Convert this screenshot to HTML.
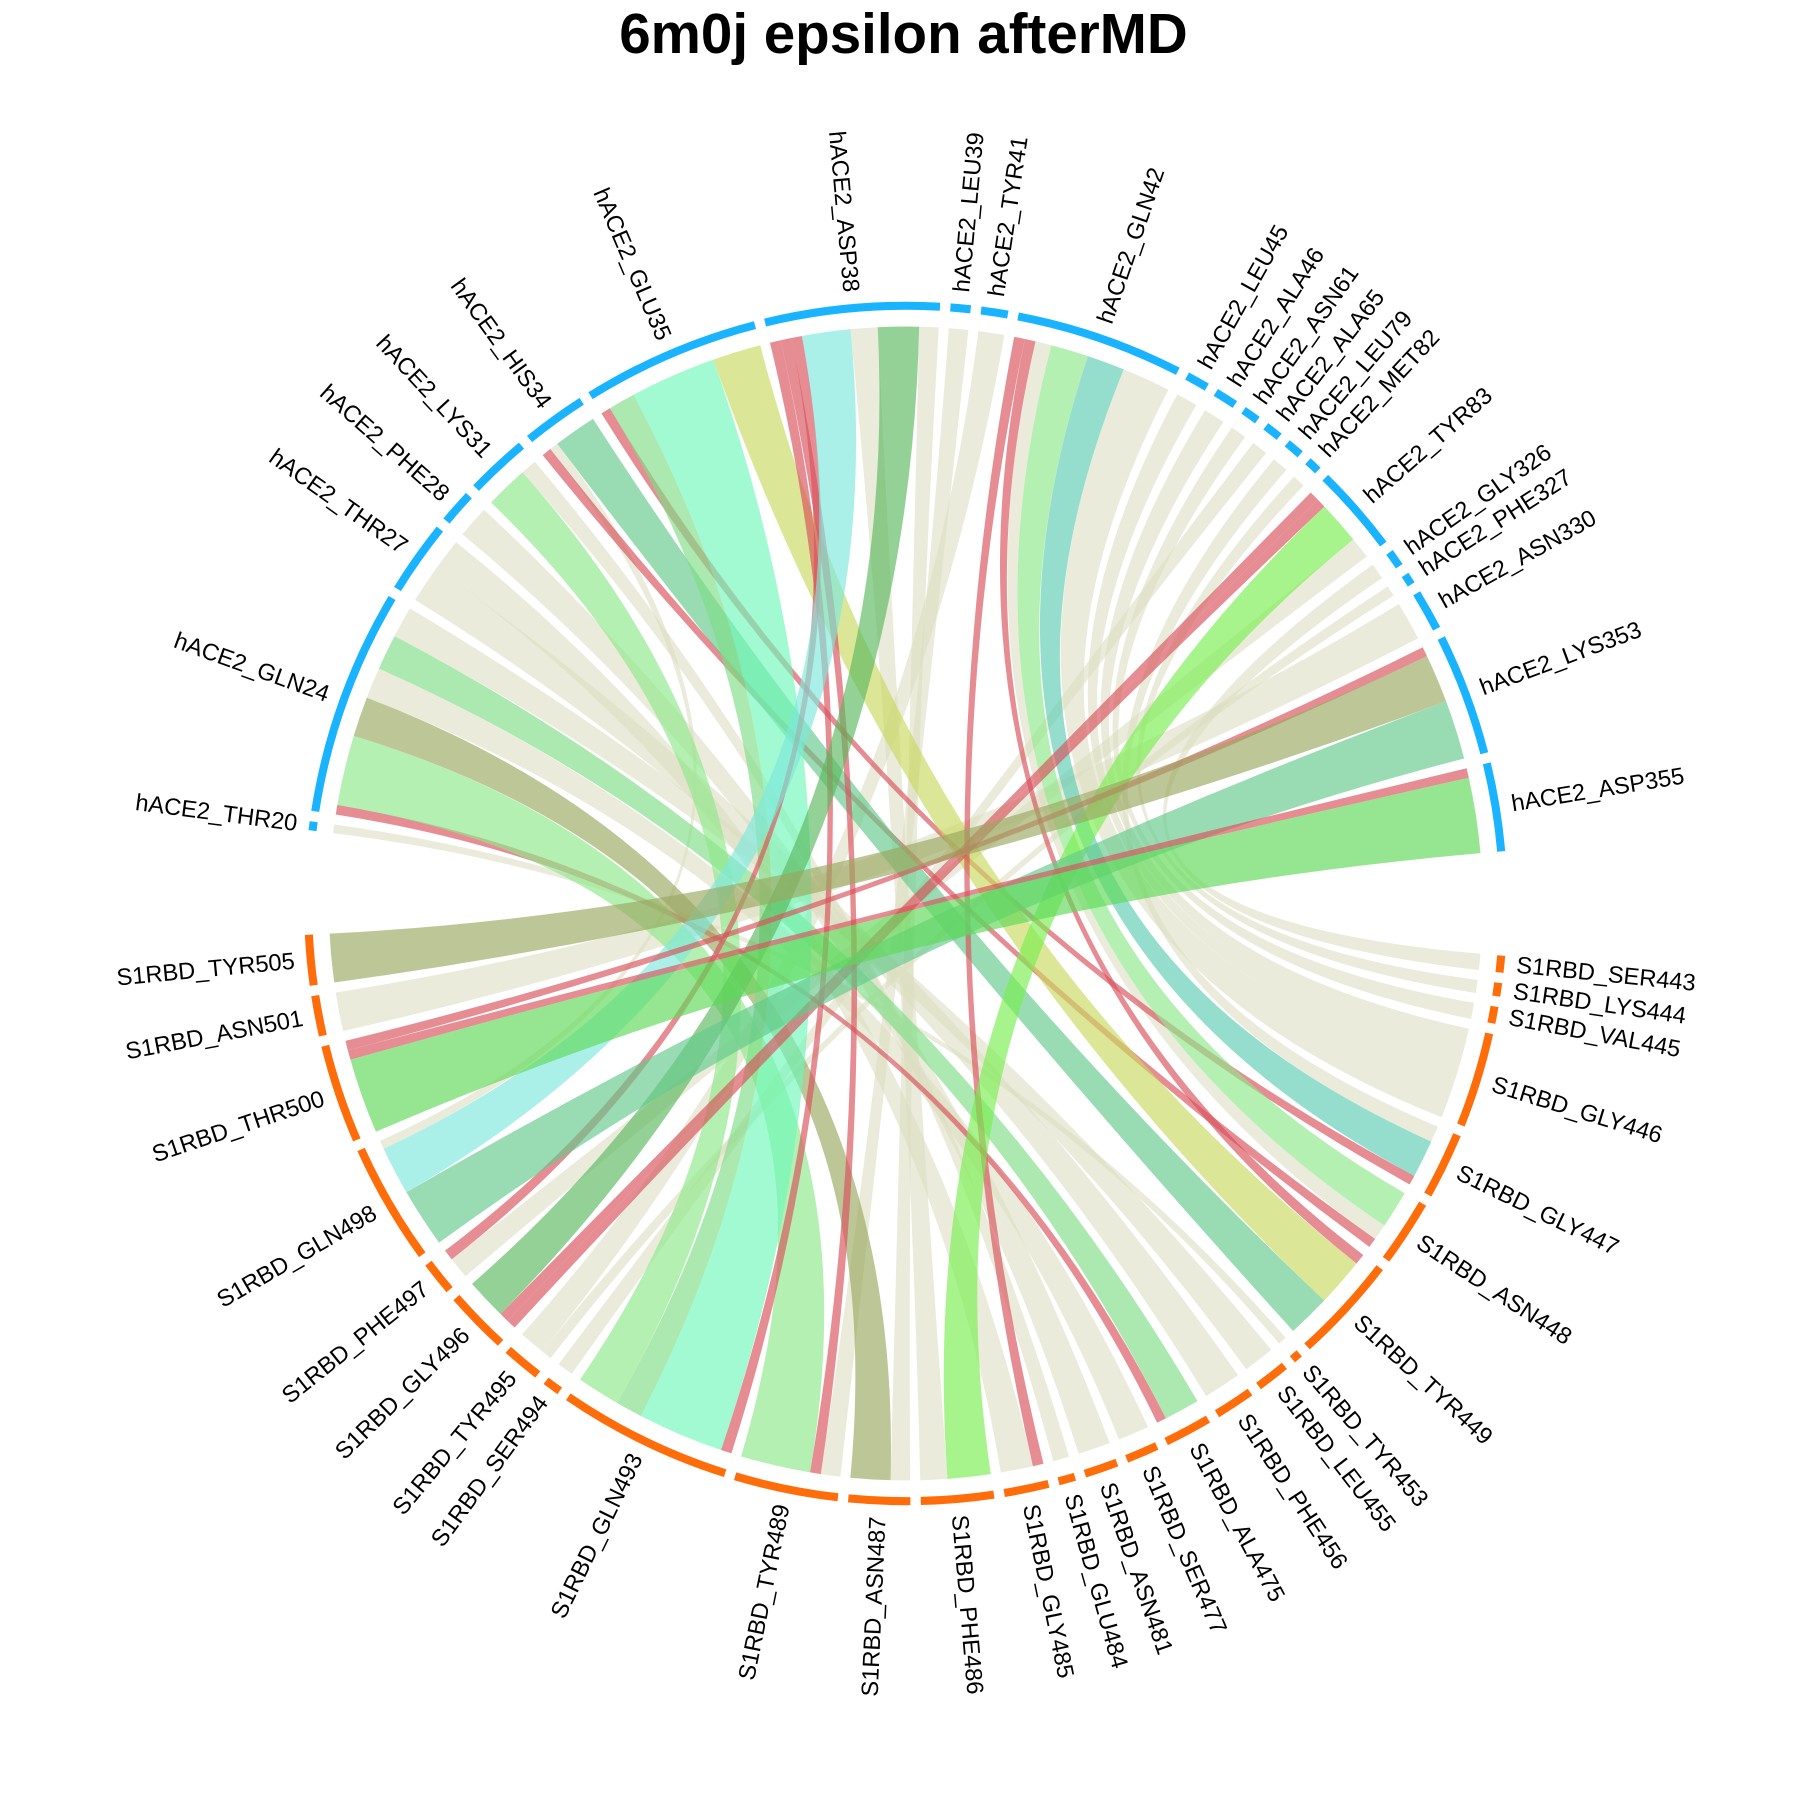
<!DOCTYPE html>
<html><head><meta charset="utf-8">
<style>
html,body{margin:0;padding:0;background:#fff;}
svg{display:block;}
</style></head>
<body>
<svg id="chart" width="1800" height="1800" viewBox="0 0 1560 1560" xmlns="http://www.w3.org/2000/svg">
<text x="783" y="46" text-anchor="middle" font-family="Liberation Sans, sans-serif" font-weight="bold" font-size="49" fill="#000">6m0j epsilon afterMD</text>
<g id="ribbons"></g>
<g id="tracks"></g>
<g id="labels"></g>
</svg>
<script>
const hSectors = ["THR20","GLN24","THR27","PHE28","LYS31","HIS34","GLU35","ASP38","LEU39","TYR41","GLN42","LEU45","ALA46","ASN61","ALA65","LEU79","MET82","TYR83","GLY326","PHE327","ASN330","LYS353","ASP355"];
const sSectors = ["SER443","LYS444","VAL445","GLY446","GLY447","ASN448","TYR449","TYR453","LEU455","PHE456","ALA475","SER477","ASN481","GLU484","GLY485","PHE486","ASN487","TYR489","GLN493","SER494","TYR495","GLY496","PHE497","GLN498","THR500","ASN501","TYR505"];
const linkFrom = ["THR20","GLN24","GLN24","GLN24","GLN24","GLN24","GLN24","THR27","THR27","PHE28","LYS31","LYS31","HIS34","HIS34","HIS34","GLU35","GLU35","GLU35","GLU35","ASP38","ASP38","ASP38","ASP38","ASP38","ASP38","ASP38","LEU39","TYR41","GLN42","GLN42","GLN42","GLN42","GLN42","GLN42","LEU45","ALA46","ASN61","ALA65","LEU79","MET82","TYR83","TYR83","TYR83","TYR83","GLY326","PHE327","ASN330","LYS353","LYS353","LYS353","ASP355","ASP355"];
const linkTo = ["TYR453","ALA475","TYR489","ASN487","SER477","ALA475","LEU455","PHE456","GLY485","ASN481","GLN493","GLU484","ASN448","GLN498","TYR449","GLY447","GLN493","GLN493","TYR449","GLN493","TYR489","PHE497","GLN498","PHE486","GLY496","ASN487","TYR489","TYR495","GLY485","TYR449","ASN448","ASN448","GLY447","GLY446","GLY446","GLY446","VAL445","SER494","GLY447","LYS444","GLY496","GLY496","PHE486","PHE497","SER443","TYR495","ASN501","THR500","TYR505","GLN498","THR500","THR500"];
const linkValue = [0.8,0.9,6.5,3.7,2.9,3.3,2.9,3.5,3.0,3.0,4.0,1.5,0.9,0.8,4.0,0.9,2.5,8.0,4.5,1.0,1.0,1.0,4.5,2.5,3.8,1.8,1.8,2.4,1.0,1.0,1.5,3.5,3.5,4.5,2.0,2.0,1.5,1.5,1.5,1.2,0.9,0.9,4.0,2.0,1.5,1.0,3.6,0.9,4.5,5.5,0.9,7.0];
const linkColor = ["beige","red","lgreen","olive","beige","mgreen","beige","beige","beige","beige","lgreen","beige","red","beige","tgreen","red","mgreen","mint","yellow","red","red","red","cyan","beige","green","beige","beige","beige","red","red","beige","lgreen","teal","beige","beige","beige","beige","beige","beige","beige","red","red","bgreen","beige","beige","beige","beige","red","olive","tgreen","red","green2"];

const palette = {beige:["#dcdec2",0.6],red:["#d9505a",0.65],lgreen:["#8ee88a",0.65],olive:["#9aa860",0.65],mgreen:["#7edd86",0.65],tgreen:["#62c98a",0.65],mint:["#6ff8b8",0.65],yellow:["#c9d860",0.65],cyan:["#7de8dc",0.65],green:["#5ab95e",0.65],teal:["#5ccdb4",0.65],bgreen:["#78ee50",0.65],green2:["#5ed856",0.65]};

const CX=785, CY=783, RT=518, RC=500, RL=532;
const H_START=277, H_END=445, S_START=95, S_END=267, GAP=1.0;
const svg=document.getElementById('chart');
const NS="http://www.w3.org/2000/svg";
const rad=d=>d*Math.PI/180;
function pt(a,r){return [CX+r*Math.sin(rad(a)), CY-r*Math.cos(rad(a))];}

function layout(sectors, start, end, key){
  const sums={}; sectors.forEach(s=>sums[s]=0);
  linkValue.forEach((v,i)=>{sums[key[i]]+=v;});
  const total=sectors.reduce((t,s)=>t+sums[s],0);
  const unit=(end-start-GAP*(sectors.length-1))/total;
  const pos={}; let a=start;
  sectors.forEach(s=>{pos[s]=[a,a+sums[s]*unit]; a+=sums[s]*unit+GAP;});
  return {pos,unit};
}
const H=layout(hSectors,H_START,H_END,linkFrom);
const S=layout(sSectors,S_START,S_END,linkTo);

const hEnd=[]; const hCur={}; hSectors.forEach(s=>hCur[s]=H.pos[s][0]);
linkValue.forEach((v,i)=>{const s=linkFrom[i]; const a1=hCur[s]; const a2=a1+v*H.unit; hCur[s]=a2; hEnd[i]=[a1,a2];});
const sEnd=[];
sSectors.forEach(s=>{
  const idx=linkValue.map((v,i)=>i).filter(i=>linkTo[i]===s);
  idx.sort((p,q)=>(hEnd[q][0]+hEnd[q][1])-(hEnd[p][0]+hEnd[p][1]));
  let a=S.pos[s][0];
  idx.forEach(i=>{const a2=a+linkValue[i]*S.unit; sEnd[i]=[a,a2]; a=a2;});
});

const rg=document.getElementById('ribbons');
const order=linkValue.map((v,i)=>i).sort((p,q)=>(linkColor[p]==="beige"?0:1)-(linkColor[q]==="beige"?0:1));
order.forEach(i=>{
  const [a1,a2]=hEnd[i], [b1,b2]=sEnd[i];
  const p1=pt(a1,RC),p2=pt(a2,RC),q1=pt(b1,RC),q2=pt(b2,RC);
  const d=`M${p1[0]},${p1[1]} A${RC},${RC} 0 0 1 ${p2[0]},${p2[1]} Q${CX},${CY} ${q1[0]},${q1[1]} A${RC},${RC} 0 0 1 ${q2[0]},${q2[1]} Q${CX},${CY} ${p1[0]},${p1[1]} Z`;
  const path=document.createElementNS(NS,'path');
  path.setAttribute('d',d);
  path.setAttribute('fill',palette[linkColor[i]][0]);
  path.setAttribute('fill-opacity',palette[linkColor[i]][1]);
  
  
  rg.appendChild(path);
});

const tg=document.getElementById('tracks');
const lg=document.getElementById('labels');
function drawSectors(sectors,L,prefix,color){
  sectors.forEach(s=>{
    const [a1,a2]=L.pos[s];
    const p1=pt(a1,RT),p2=pt(a2,RT);
    const large=(a2-a1)>180?1:0;
    const arc=document.createElementNS(NS,'path');
    arc.setAttribute('d',`M${p1[0]},${p1[1]} A${RT},${RT} 0 ${large} 1 ${p2[0]},${p2[1]}`);
    arc.setAttribute('stroke',color);
    arc.setAttribute('stroke-width','7');
    arc.setAttribute('fill','none');
    
    
    tg.appendChild(arc);
    let m=((a1+a2)/2)%360;
    const p=pt(m,RL);
    const t=document.createElementNS(NS,'text');
    t.textContent=prefix+'_'+s;
    t.setAttribute('x',p[0]); t.setAttribute('y',p[1]);
    t.setAttribute('font-family','Liberation Sans, sans-serif');
    t.setAttribute('font-size','20.5');
    t.setAttribute('dominant-baseline','central');
    if(m<180){t.setAttribute('text-anchor','start'); t.setAttribute('transform',`rotate(${m-90} ${p[0]} ${p[1]})`);}
    else{t.setAttribute('text-anchor','end'); t.setAttribute('transform',`rotate(${m+90} ${p[0]} ${p[1]})`);}
    
    
    lg.appendChild(t);
  });
}
drawSectors(hSectors,H,'hACE2','#1ab3ff');
drawSectors(sSectors,S,'S1RBD','#ff6d0a');
</script>
</body></html>
